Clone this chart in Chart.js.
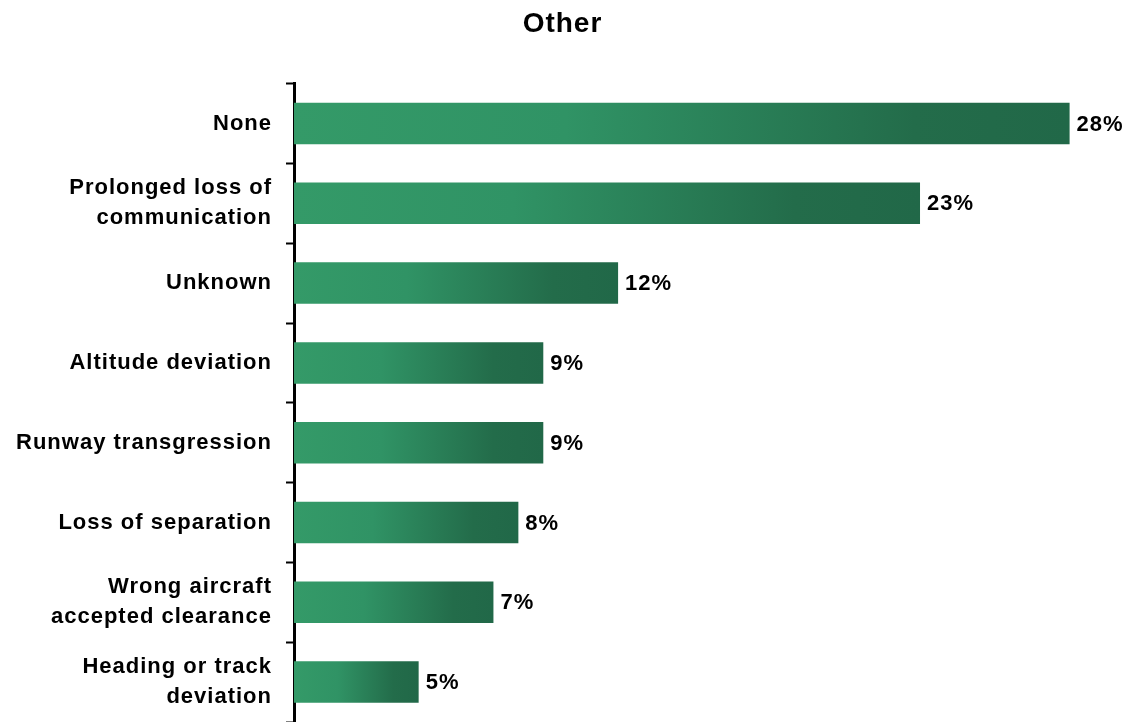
<!DOCTYPE html>
<html>
<head>
<meta charset="utf-8">
<script src="https://cdn.jsdelivr.net/npm/chart.js@4"></script>
<style>
	html, body { margin: 0; padding: 0; background: #fff; overflow: hidden; }
	.chart-wrap { position: relative; width: 1130px; height: 722px; }
</style>
</head>
<body>
<div class="chart-wrap"><canvas id="chart"></canvas></div>
<script>
'use strict'

const categories = [
	'None',
	['Prolonged loss of', 'communication'],
	'Unknown',
	'Altitude deviation',
	'Runway transgression',
	'Loss of separation',
	['Wrong aircraft', 'accepted clearance'],
	['Heading or track', 'deviation'],
]
const values = [28, 22.6, 11.7, 9.0, 9.0, 8.1, 7.2, 4.5]
const valueLabels = ['28%', '23%', '12%', '9%', '9%', '8%', '7%', '5%']

const FONT = "'Liberation Sans', Arial, sans-serif"

function barGradient(ctx) {
	const chart = ctx.chart
	const xScale = chart.scales.x
	if (!chart.chartArea || !xScale || ctx.dataIndex === undefined) return '#339966'
	const x0 = xScale.getPixelForValue(0)
	const x1 = xScale.getPixelForValue(values[ctx.dataIndex])
	const grad = chart.ctx.createLinearGradient(x0, 0, x1, 0)
	grad.addColorStop(0, '#349a68')
	grad.addColorStop(0.35, '#309365')
	grad.addColorStop(0.8, '#236c4a')
	grad.addColorStop(1, '#216848')
	return grad
}

// canvas letter spacing gets reset when the canvas resizes, so set it again
const spacingPlugin = {
	id: 'spacing',
	beforeLayout(chart) { chart.ctx.letterSpacing = '1px' },
	beforeDraw(chart) { chart.ctx.letterSpacing = '1px' },
}

const valueLabelPlugin = {
	id: 'valueLabels',
	afterDatasetsDraw(chart) {
		const ctx = chart.ctx
		const meta = chart.getDatasetMeta(0)
		ctx.save()
		ctx.letterSpacing = '1px'
		ctx.font = 'bold 22px ' + FONT
		ctx.fillStyle = '#000'
		ctx.textAlign = 'left'
		ctx.textBaseline = 'middle'
		meta.data.forEach((bar, i) => {
			ctx.fillText(valueLabels[i], bar.x + 7, bar.y + 1)
		})
		ctx.restore()
	},
}

new Chart(document.getElementById('chart'), {
	type: 'bar',
	data: {
		labels: categories,
		datasets: [
			{
				data: values,
				backgroundColor: barGradient,
				borderWidth: 0,
				categoryPercentage: 1,
				barPercentage: 0.52,
			},
		],
	},
	plugins: [spacingPlugin, valueLabelPlugin],
	options: {
		indexAxis: 'y',
		maintainAspectRatio: false,
		animation: false,
		layout: { padding: { left: 0, right: 5, top: 0, bottom: 0 } },
		plugins: {
			legend: { display: false },
			tooltip: { enabled: false },
			title: {
				display: true,
				text: 'Other',
				color: '#000',
				font: { family: FONT, size: 28, weight: 'bold' },
				padding: { top: 7, bottom: 43 },
			},
		},
		scales: {
			x: {
				display: false,
				min: 0,
				max: 30,
			},
			y: {
				afterFit(scale) {
					scale.width = 294
					scale.paddingTop = 0
					scale.paddingBottom = 0
				},
				border: { display: true, color: '#000', width: 3 },
				grid: {
					display: true,
					drawOnChartArea: false,
					drawTicks: true,
					tickLength: 8,
					tickColor: '#000',
					tickWidth: 2,
					offset: true,
				},
				ticks: {
					color: '#000',
					padding: 14,
					font: { family: FONT, size: 22, weight: 'bold', lineHeight: 1.36 },
				},
			},
		},
	},
})
</script>
</body>
</html>
